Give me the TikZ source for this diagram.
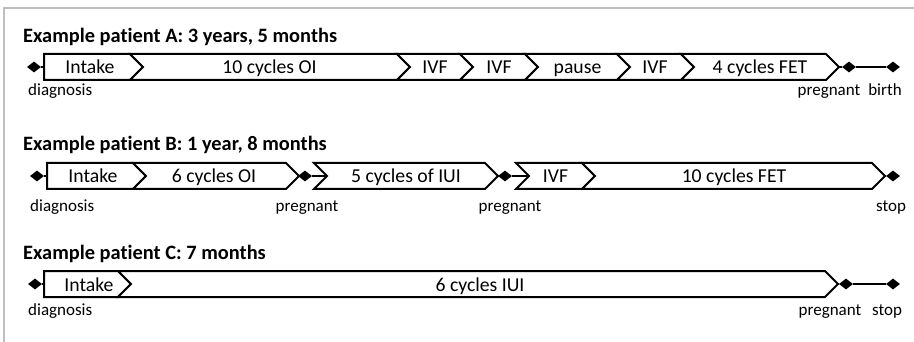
\documentclass[tikz,border=0pt]{standalone}
\usepackage{fontspec}
\setmainfont{Carlito}[Ligatures=NoCommon]
\usetikzlibrary{shapes.geometric}

% chevron segment geometry: half height and arrow depth
\newcommand\chevh{13}
\newcommand\chevd{13}

% first segment of a row: flat left side, pointed right side
\newcommand\firstseg[3]{%
  \draw[segline] (#1,#3-\chevh) -- (#2,#3-\chevh) -- (#2+\chevd,#3)
    -- (#2,#3+\chevh) -- (#1,#3+\chevh) -- cycle;}
% following segment: notched left side, pointed right side
\newcommand\nextseg[3]{%
  \draw[segline] (#1,#3-\chevh) -- (#2,#3-\chevh) -- (#2+\chevd,#3)
    -- (#2,#3+\chevh) -- (#1,#3+\chevh) -- (#1+\chevd,#3) -- cycle;}

\tikzset{
  segline/.style={draw=black, fill=white, line width=2pt, line join=miter},
  segtext/.style={font=\fontsize{19.7}{22}\selectfont, inner sep=0pt, anchor=base},
  title/.style={font=\fontsize{20.4}{24}\selectfont\bfseries, inner sep=0pt, anchor=base west},
  evlabel/.style={font=\fontsize{17}{20}\selectfont, inner sep=0pt, anchor=base},
  event/.style={diamond, fill=black, draw=none, inner sep=0pt,
    minimum width=14pt, minimum height=11pt},
  conn/.style={draw=black, line width=2pt},
  frame/.style={draw=black!25, line width=2pt}
}

\begin{document}
\begin{tikzpicture}[x=1pt, y=-1pt]
\useasboundingbox (0,0) rectangle (914,342);
\fill[white] (0,0) rectangle (914,342);
\draw[frame] (914,8) -- (4,8) -- (4,342);

% ---------- patient A ----------
\node[title] (titleA) at (23,43) {Example patient A: 3 years, 5 months};
\firstseg{44}{130}{67}
\nextseg{130}{397}{67}
\nextseg{397}{460}{67}
\nextseg{460}{525}{67}
\nextseg{525}{617}{67}
\nextseg{617}{681}{67}
\nextseg{681}{826}{67}
\coordinate (startA) at (44,67);
\coordinate (endA) at (839,67);
\node[segtext] (a1) at (90,74) {Intake};
\node[segtext] (a2) at (269.5,74) {10 cycles OI};
\node[segtext] (a3) at (435,74) {IVF};
\node[segtext] (a4) at (499,74) {IVF};
\node[segtext] (a5) at (577.5,74) {pause};
\node[segtext] (a6) at (655,74) {IVF};
\node[segtext] (a7) at (760,74) {4 cycles FET};
\node[event] (diagA) at (34,67) {};
\node[event] (pregA) at (849,67) {};
\node[event] (birthA) at (893,67) {};
\draw[conn] (diagA) -- (startA);
\draw[conn] (endA) -- (pregA);
\draw[conn] (pregA) -- (birthA);
\node[evlabel, anchor=base west] (ldiagA) at (28,96) {diagnosis};
\node[evlabel] (lpregA) at (829,96) {pregnant};
\node[evlabel] (lbirthA) at (885,96) {birth};

% ---------- patient B ----------
\node[title] (titleB) at (23,151) {Example patient B: 1 year, 8 months};
\firstseg{47}{133}{176}
\nextseg{133}{286}{176}
\nextseg{314}{485}{176}
\nextseg{516}{582}{176}
\nextseg{582}{872}{176}
\coordinate (startB) at (47,176);
\coordinate (endB1) at (299,176);
\coordinate (inB2) at (327,176);
\coordinate (endB2) at (498,176);
\coordinate (inB3) at (529,176);
\coordinate (endB) at (885,176);
\node[segtext] (b1) at (93,183) {Intake};
\node[segtext] (b2) at (214,183) {6 cycles OI};
\node[segtext] (b3) at (406,183) {5 cycles of IUI};
\node[segtext] (b4) at (555.5,183) {IVF};
\node[segtext] (b5) at (734,183) {10 cycles FET};
\node[event] (diagB) at (37,176) {};
\node[event] (pregB1) at (305,176) {};
\node[event] (pregB2) at (505,176) {};
\node[event] (stopB) at (893,176) {};
\draw[conn] (diagB) -- (startB);
\draw[conn] (endB1) -- (pregB1);
\draw[conn] (pregB1) -- (inB2);
\draw[conn] (endB2) -- (pregB2);
\draw[conn] (pregB2) -- (inB3);
\draw[conn] (endB) -- (stopB);
\node[evlabel, anchor=base west] (ldiagB) at (30,212) {diagnosis};
\node[evlabel] (lpregB1) at (307,212) {pregnant};
\node[evlabel] (lpregB2) at (510,212) {pregnant};
\node[evlabel] (lstopB) at (891,212) {stop};

% ---------- patient C ----------
\node[title] (titleC) at (23,259) {Example patient C: 7 months};
\firstseg{44}{118}{284}
\nextseg{118}{825}{284}
\coordinate (startC) at (44,284);
\coordinate (endC) at (838,284);
\node[segtext] (c1) at (89,291) {Intake};
\node[segtext] (c2) at (480,291) {6 cycles IUI};
\node[event] (diagC) at (35,284) {};
\node[event] (pregC) at (846,284) {};
\node[event] (stopC) at (893,284) {};
\draw[conn] (diagC) -- (startC);
\draw[conn] (endC) -- (pregC);
\draw[conn] (pregC) -- (stopC);
\node[evlabel, anchor=base west] (ldiagC) at (28,316) {diagnosis};
\node[evlabel] (lpregC) at (830,316) {pregnant};
\node[evlabel] (lstopC) at (887,316) {stop};
\end{tikzpicture}
\end{document}
